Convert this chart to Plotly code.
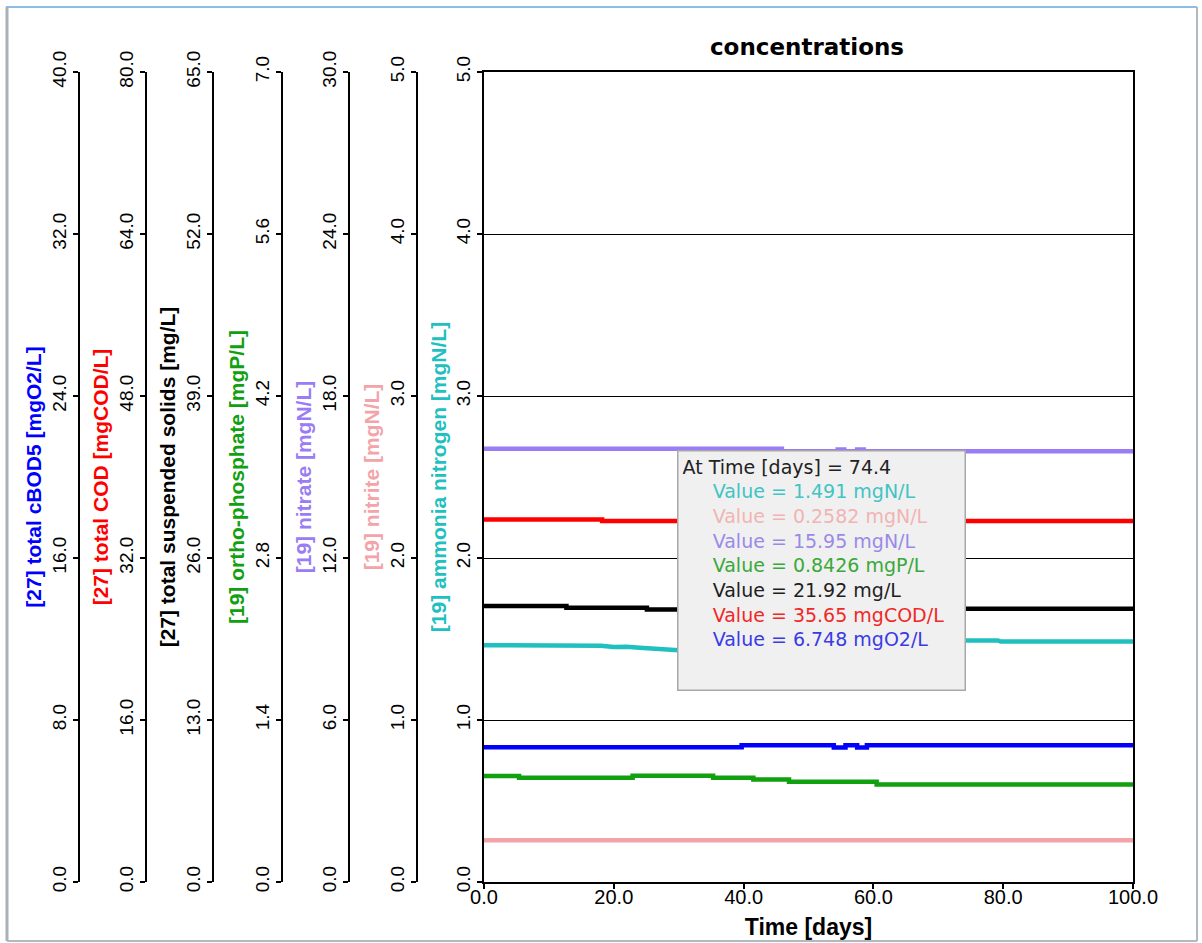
import numpy as np
import plotly.graph_objects as go

W, H = 1202, 943

# ---------------- data ----------------
# step series (time breakpoints in days, values in the series' own units)
cbod_t = [0, 39.7, 53.9, 55.7, 57.5, 59.0, 100]
cbod_v = [6.66, 6.748, 6.64, 6.748, 6.64, 6.748, 6.748]

cod_t = [0, 18.2, 100]
cod_v = [35.8, 35.65, 35.65]

tss_t = [0, 12.7, 25.1, 45.0, 100]
tss_v = [22.15, 22.0, 21.86, 21.92, 21.92]

po4_t = [0, 5.4, 22.9, 35.3, 41.5, 47.0, 60.5, 100]
po4_v = [0.915, 0.900, 0.918, 0.902, 0.885, 0.866, 0.8426, 0.8426]

no3_t = [0, 45.9, 54.5, 55.5, 57.5, 58.5, 100]
no3_v = [16.05, 15.95, 16.02, 15.95, 16.02, 15.95, 15.95]

no2_t = [0, 100]
no2_v = [0.2582, 0.2582]

# ammonia (piecewise linear)
nh4_t = [0, 12, 18, 20, 22, 24, 26, 28, 30, 40, 50, 60, 70, 73.8, 79.2, 79.6, 100]
nh4_v = [1.462, 1.462, 1.458, 1.45, 1.452, 1.446, 1.442, 1.435, 1.43, 1.42, 1.44, 1.465, 1.485, 1.491, 1.491, 1.484, 1.484]

hover_time = 74.4

# axis names, ranges, colours
names = ["[27] total cBOD5 [mgO2/L]", "[27] total COD [mgCOD/L]",
         "[27] total suspended solids [mg/L]", "[19] ortho-phosphate [mgP/L]",
         "[19] nitrate [mgN/L]", "[19] nitrite [mgN/L]",
         "[19] ammonia nitrogen [mgN/L]"]
units = ["mgO2/L", "mgCOD/L", "mg/L", "mgP/L", "mgN/L", "mgN/L", "mgN/L"]
ranges = [40.0, 80.0, 65.0, 7.0, 30.0, 5.0, 5.0]
colors = ["#0000ff", "#ff0000", "#000000", "#10a010", "#9a7cf4", "#f4a4a8", "#20c0c0"]
tip_colors = ["#3a3ae6", "#f02828", "#1e1e1e", "#3aa83a", "#9a8ae8", "#f0b4b4", "#40c4c4"]

series_t = [cbod_t, cod_t, tss_t, po4_t, no3_t, no2_t, nh4_t]
series_v = [cbod_v, cod_v, tss_v, po4_v, no3_v, no2_v, nh4_v]
shapes_ = ["hv", "hv", "hv", "hv", "hv", "hv", "linear"]

# ---------------- layout geometry (pixels) ----------------
plot_l, plot_r, plot_t, plot_b = 484, 1133, 72, 882
axis_px = [79, 146, 213, 282, 349, 417]

def px(x):
    return x / W

def py(y):
    return 1 - y / H

fig = go.Figure()
font_family = "Liberation Sans, Arial, sans-serif"

axis_ids = ["y2", "y3", "y4", "y5", "y6", "y7", "y"]
for i in range(7):
    fig.add_trace(go.Scatter(
        x=series_t[i], y=series_v[i], mode="lines",
        line=dict(color=colors[i], width=4.5, shape=shapes_[i]),
        yaxis=axis_ids[i], name=names[i], showlegend=False,
        hoverinfo="skip"))

def yax(i, **extra):
    d = dict(
        range=[0, ranges[i]], dtick=ranges[i] / 5, tickformat=".1f",
        tickangle=-90, ticks="outside", ticklen=5, tickwidth=1.5, tickcolor="black",
        showline=True, linecolor="black", linewidth=1.5,
        showgrid=False, zeroline=False, automargin=False,
        tickfont=dict(family=font_family, size=19, color="black"),
        title=dict(text="<b>" + names[i] + "</b>",
                   font=dict(family=font_family, size=21, color=colors[i]),
                   standoff=0),
        domain=[py(plot_b), py(plot_t)],
    )
    d.update(extra)
    return d

layout_axes = {}
for i in range(6):
    layout_axes["yaxis%d" % (i + 2)] = yax(i, overlaying="y", anchor="free",
                                           position=px(axis_px[i]), side="left")
layout_axes["yaxis"] = yax(6, anchor="x", showgrid=True, gridcolor="black",
                           gridwidth=1.2, mirror=True)

# tooltip text built from the series at hover_time
def value_at(i, t):
    if shapes_[i] == "linear":
        return float(np.interp(t, series_t[i], series_v[i]))
    idx = np.searchsorted(series_t[i], t, side="right") - 1
    return series_v[i][idx]

lines = ["<span style='color:#222222'>At Time [days] = %s</span>" % hover_time]
for i in [6, 5, 4, 3, 2, 1, 0]:
    v = value_at(i, hover_time)
    lines.append("&nbsp;&nbsp;&nbsp;&nbsp;&nbsp;<span style='color:%s'>Value = %s %s</span>"
                 % (tip_colors[i], format(v, ".4g"), units[i]))

fig.add_annotation(
    xref="paper", yref="paper", x=px(677), y=py(450), xanchor="left", yanchor="top",
    text="<br>".join(lines), align="left", valign="top", showarrow=False,
    font=dict(family="DejaVu Sans, sans-serif", size=19, color="#222222"),
    bgcolor="#f0f0f0", bordercolor="#a8a8a8", borderwidth=1.5, borderpad=4,
    width=278, height=230)

# window frame
fig.add_shape(type="line", xref="paper", yref="paper", x0=px(6), x1=px(1197), y0=py(7), y1=py(7),
              line=dict(color="#8cbce8", width=2))
fig.add_shape(type="line", xref="paper", yref="paper", x0=px(7), x1=px(7), y0=py(7), y1=py(941),
              line=dict(color="#a8b0b8", width=3))
fig.add_shape(type="line", xref="paper", yref="paper", x0=px(1197), x1=px(1197), y0=py(7), y1=py(941),
              line=dict(color="#b0b8c0", width=2))
fig.add_shape(type="line", xref="paper", yref="paper", x0=px(7), x1=px(1197), y0=py(941), y1=py(941),
              line=dict(color="#b0b8c0", width=2))

fig.update_layout(
    width=W, height=H, autosize=False,
    margin=dict(l=0, r=0, t=0, b=0),
    paper_bgcolor="white", plot_bgcolor="white",
    font=dict(family=font_family, color="black"),
    title=dict(text="<b>concentrations</b>", x=px(807), xanchor="center",
               y=py(47), yanchor="middle",
               font=dict(family="DejaVu Sans, sans-serif", size=23, color="black")),
    xaxis=dict(domain=[px(plot_l), px(plot_r)], range=[0, 100], dtick=20, tickformat=".1f",
               ticks="outside", ticklen=5, tickwidth=1.5, tickcolor="black",
               showline=True, linecolor="black", linewidth=1.5, mirror=True,
               showgrid=False, zeroline=False, automargin=False,
               ticklabelstandoff=-9,
               tickfont=dict(family=font_family, size=20, color="black"),
               title=dict(text="<b>Time [days]</b>", font=dict(family=font_family, size=23, color="black"),
                          standoff=12)),
    **layout_axes,
)

fig.write_html("out.html")
